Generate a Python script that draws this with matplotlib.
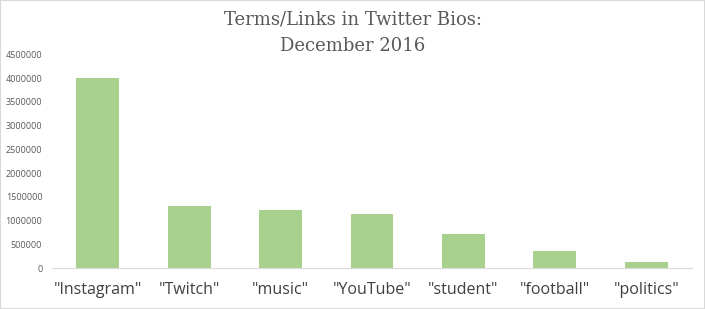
import matplotlib.pyplot as plt, numpy as np
from matplotlib.patches import Rectangle

terms = ['"Instagram"', '"Twitch"', '"music"', '"YouTube"', '"student"', '"football"', '"politics"']
counts = [4000000, 1316000, 1226000, 1127000, 707000, 364000, 133000]
yticks = np.arange(0, 4500001, 500000)

fig = plt.figure(figsize=(7.05, 3.09), dpi=100)
ax = fig.add_axes([52/705, 41/309, 640/705, 213.7/309])

pos = np.arange(len(terms))
ax.bar(pos, counts, width=0.47, color='#a9d18e')
ax.set_xlim(-0.5, len(terms) - 0.5)
ax.set_ylim(0, 4500000)
ax.set_yticks(yticks)
ax.set_yticklabels([str(v) for v in yticks], fontsize=6.5, color='#595959', family='Open Sans')
ax.set_xticks(pos)
ax.set_xticklabels(terms, fontsize=11.5, color='#404040', family='Open Sans')
ax.tick_params(axis='both', length=0)
ax.tick_params(axis='x', pad=10)
ax.tick_params(axis='y', pad=7)
for s in ['top', 'right', 'left']:
    ax.spines[s].set_visible(False)
ax.spines['bottom'].set_color('#d9d9d9')

fig.text(0.5, 0.965, 'Terms/Links in Twitter Bios:\nDecember 2016', ha='center', va='top',
         fontsize=13, color='#595959', family='DejaVu Serif', linespacing=1.6)
fig.patches.append(Rectangle((0, 0), 1, 1, transform=fig.transFigure, fill=False,
                             edgecolor='#d9d9d9', lw=1.5))

fig.savefig('out.png', dpi=100)
